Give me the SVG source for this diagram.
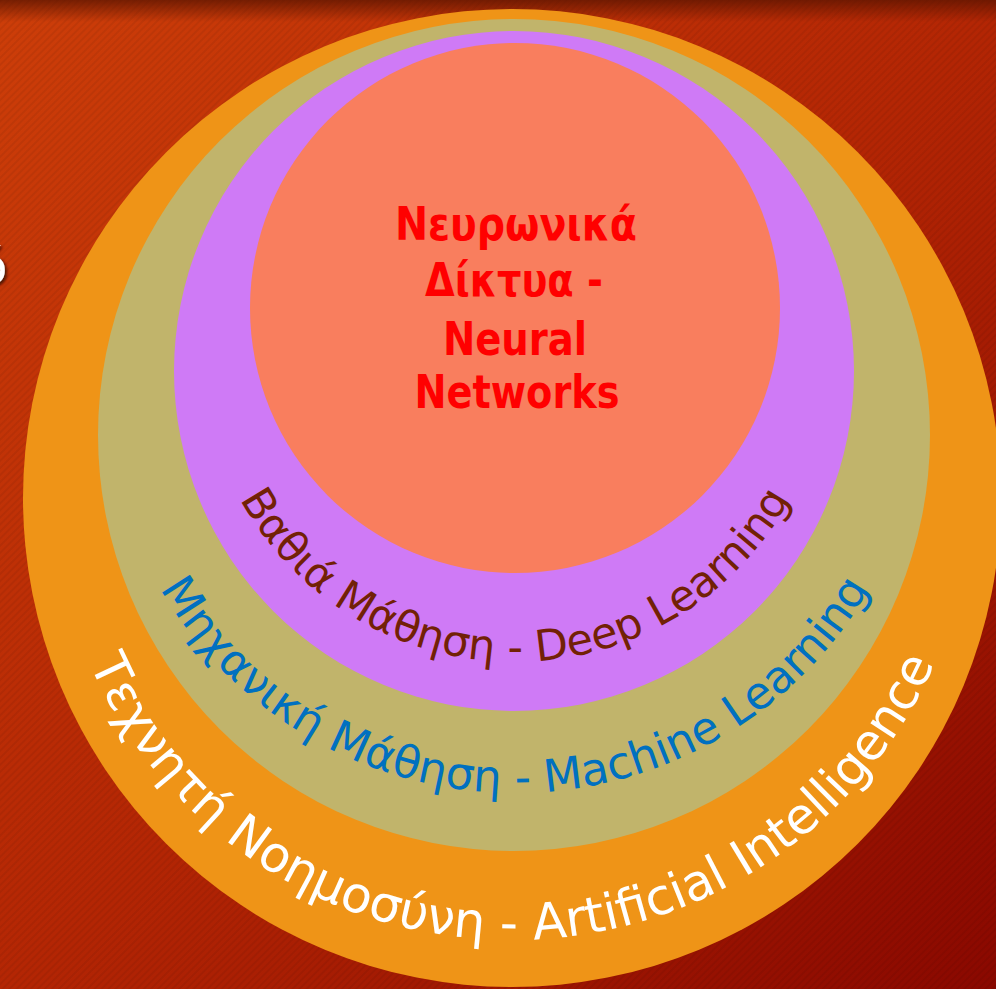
<svg xmlns="http://www.w3.org/2000/svg" width="996" height="989" viewBox="0 0 996 989">
<defs>
<linearGradient id="bg" x1="0" y1="0" x2="1" y2="1">
<stop offset="0" stop-color="#cd3e09"/>
<stop offset="0.5" stop-color="#b42604"/>
<stop offset="1" stop-color="#8a0800"/>
</linearGradient>
<linearGradient id="topShade" x1="0" y1="0" x2="0" y2="1">
<stop offset="0" stop-color="#5a1400" stop-opacity="0.75"/>
<stop offset="1" stop-color="#5a1400" stop-opacity="0"/>
</linearGradient>
<pattern id="stripes" patternUnits="userSpaceOnUse" width="5" height="5" patternTransform="rotate(45)">
<rect x="0" y="0" width="2" height="5" fill="#000" fill-opacity="0.06"/>
</pattern>
<filter id="shadow" x="-50%" y="-50%" width="200%" height="200%">
<feDropShadow dx="2" dy="2" stdDeviation="1.5" flood-color="#3a0800" flood-opacity="0.9"/>
</filter>
<path id="arcDeep" d="M 219.9 240.6 A 314 314 0 1 0 810.1 240.6"/>
<path id="arcML" d="M 129.7 242.8 A 410 410 0 1 0 900.3 242.8"/>
<path id="arcAI" d="M 78.8 321.3 A 461 461 0 1 0 945.2 321.3"/>
</defs>
<style>
.ring { font-family: "DejaVu Sans", "Noto Sans", sans-serif; }
.center { font-family: "DejaVu Sans", "Noto Sans", sans-serif; font-weight: bold; font-size: 46px; fill: #ff0000; text-anchor: middle; }
</style>
<g id="background">
<rect width="996" height="989" fill="url(#bg)"/>
<rect width="996" height="989" fill="url(#stripes)"/>
<rect width="996" height="22" fill="url(#topShade)"/>
<text x="-22" y="283" font-family="DejaVu Sans, sans-serif" font-size="48" fill="#ffffff" filter="url(#shadow)">ό</text>
</g>
<g id="node-ai">
<circle cx="512" cy="498" r="489" fill="#ef9417"/>
</g>
<g id="node-ml">
<circle cx="514" cy="435" r="416" fill="#c1b46b"/>
</g>
<g id="node-dl">
<circle cx="514" cy="371" r="340" fill="#cf7af6"/>
</g>
<g id="node-nn">
<circle cx="515" cy="308" r="265" fill="#f97e5e"/>
<text class="center" x="516" y="240" textLength="242" lengthAdjust="spacingAndGlyphs">Νευρωνικά</text>
<text class="center" x="514" y="296" textLength="178" lengthAdjust="spacingAndGlyphs">Δίκτυα -</text>
<text class="center" x="515" y="355" textLength="144" lengthAdjust="spacingAndGlyphs">Neural</text>
<text class="center" x="517" y="408" textLength="205" lengthAdjust="spacingAndGlyphs">Networks</text>
</g>
<g id="label-dl">
<text class="ring" font-size="43" fill="#722106"><textPath href="#arcDeep" startOffset="50%" text-anchor="middle">Βαθιά Μάθηση - Deep Learning</textPath></text>
</g>
<g id="label-ml">
<text class="ring" font-size="45" fill="#0070c0"><textPath href="#arcML" startOffset="50%" text-anchor="middle">Μηχανική Μάθηση - Machine Learning</textPath></text>
</g>
<g id="label-ai">
<text class="ring" font-size="50" fill="#ffffff"><textPath href="#arcAI" startOffset="50%" text-anchor="middle">Τεχνητή Νοημοσύνη - Artificial Intelligence</textPath></text>
</g>
<g id="connectors"/>
</svg>
